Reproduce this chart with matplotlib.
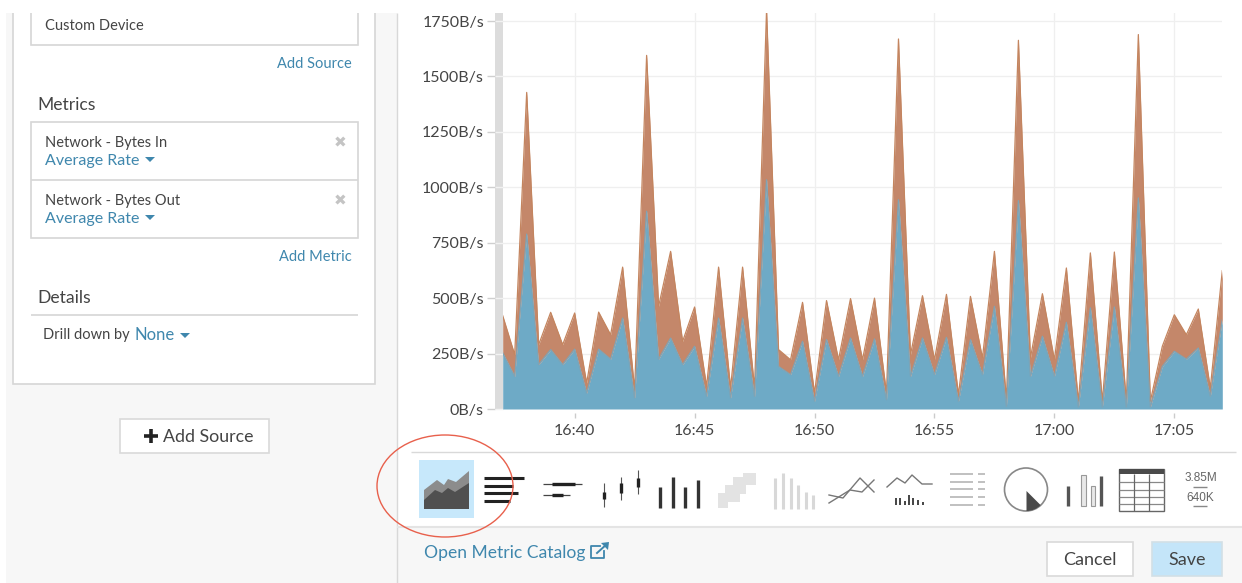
import matplotlib
matplotlib.use("Agg")
import matplotlib.pyplot as plt
import matplotlib.dates as mdates
from matplotlib.patches import Rectangle, Ellipse, Polygon, Circle, Wedge
import pandas as pd

plt.rcParams['font.family'] = ['Lato', 'DejaVu Sans']

# one sample every 30 s
times = pd.date_range("2017-01-01 16:37:00", periods=61, freq="30s")
bytes_in = [253, 147, 789, 200, 268, 200, 270, 72, 270, 225, 410, 50, 892, 225, 320, 200, 283,
            57, 410, 50, 410, 57, 1034, 192, 155, 305, 35, 313, 147, 320, 147, 316, 42, 944,
            147, 320, 155, 323, 35, 313, 155, 463, 12, 940, 147, 328, 147, 391, 9, 456, 9,
            460, 9, 952, 9, 192, 260, 225, 275, 57, 403]
stack_top = [421, 245, 1428, 290, 436, 290, 433, 117, 437, 335, 640, 87, 1595, 463, 711, 305, 460,
             102, 640, 95, 640, 95, 1800, 268, 222, 481, 72, 489, 222, 498, 222, 500, 72, 1669,
             245, 511, 222, 517, 65, 508, 230, 711, 42, 1663, 230, 520, 222, 636, 35, 704, 35,
             708, 35, 1689, 35, 283, 425, 335, 451, 95, 624]
y_ticks = [0, 250, 500, 750, 1000, 1250, 1500, 1750]

W, H = 1242, 583
BLUE_LINK = "#3f87ad"
TXT = "#444444"
LINE = "#d9d9d9"

fig = plt.figure(figsize=(W / 100, H / 100), dpi=100, facecolor="white")

# whole page in pixel coordinates, for the ui around the chart
ui = fig.add_axes([0, 0, 1, 1])
ui.set_xlim(0, W)
ui.set_ylim(H, 0)
ui.axis("off")


def box(x0, y0, x1, y1, fc="white", ec=LINE, lw=1.2, z=1):
    ui.add_patch(Rectangle((x0, y0), x1 - x0, y1 - y0, fc=fc, ec=ec, lw=lw, zorder=z))


def hline(x0, x1, y, color="#222222", lw=2.0, z=3):
    ui.plot([x0, x1], [y, y], color=color, lw=lw, solid_capstyle="butt", zorder=z)


def vline(x, y0, y1, color="#222222", lw=2.0, z=3):
    ui.plot([x, x], [y0, y1], color=color, lw=lw, solid_capstyle="butt", zorder=z)


def label(x, y, s, size=10.5, color=TXT, ha="left", **kw):
    ui.text(x, y, s, fontsize=size, color=color, ha=ha, va="center", zorder=5, **kw)


def caret(x, y):
    ui.add_patch(Polygon([(x - 5, y - 2), (x + 5, y - 2), (x, y + 3)], fc=BLUE_LINK, ec="none", zorder=5))


# page backgrounds
box(6, 13, 397, H, fc="#f7f7f7", ec="none", lw=0, z=0)
box(397, 527, W, H, fc="#f7f7f7", ec="none", lw=0, z=0)
vline(397, 13, H, color="#d8d8d8", lw=1.0, z=1)
hline(397, W, 527, color="#e4e4e4", lw=1.5, z=1)
hline(411, 1236, 452, color="#d9d9d9", lw=1.0, z=1)

# left panel
box(13, 6, 375, 384, ec="#d6d6d6")
box(31, 6, 358, 45, ec="#d6d6d6", z=2)
box(31, 122, 358, 238, ec="#d6d6d6", z=2)
hline(31, 358, 179.5, color="#d6d6d6", lw=1.2)
hline(31, 358, 314.5, color="#d6d6d6", lw=1.2)
ui.add_patch(Rectangle((0, 0), W, 13, fc="white", ec="none", zorder=4))
ui.add_patch(Rectangle((0, 0), 6, H, fc="white", ec="none", zorder=4))

label(45, 26, "Custom Device", 10.5)
label(352, 64, "Add Source", 10.5, BLUE_LINK, ha="right")
label(37.5, 105, "Metrics", 12.6)
label(45, 142.5, "Network - Bytes In", 10.5)
label(45, 161, "Average Rate", 11.5, BLUE_LINK)
caret(150, 159)
label(340, 143, "\u2716", 11, "#c4c4c4", ha="center")
label(45, 200.5, "Network - Bytes Out", 10.5)
label(45, 219, "Average Rate", 11.5, BLUE_LINK)
caret(150, 217)
label(340, 201, "\u2716", 11, "#c4c4c4", ha="center")
label(352, 257, "Add Metric", 10.5, BLUE_LINK, ha="right")
label(37.5, 298, "Details", 12.6)
label(43, 335.5, "Drill down by", 10.5)
label(135, 335, "None", 12, BLUE_LINK)
caret(185, 335)
box(120, 419, 269, 453, ec="#d9d9d9")
hline(144, 158, 435.5, color="#222222", lw=2.6)
vline(151, 428.5, 442.5, color="#222222", lw=2.6)
label(163, 437, "Add Source", 12.8)

# chart type icons
box(419, 460, 474, 518, fc="#c7e8fb", ec="none", lw=0, z=2)
ui.add_patch(Polygon([(424, 490), (437, 480), (444, 485), (448, 479), (456, 482), (469, 471), (469, 509), (424, 509)],
                     fc="#8c8c8c", ec="none", zorder=3))
ui.add_patch(Polygon([(424, 500), (435, 490), (442, 493), (448, 488), (455, 492), (469, 483), (469, 509), (424, 509)],
                     fc="#505050", ec="none", zorder=3))
for y, x1 in zip([478, 486, 493, 501], [524, 513, 518, 510]):
    hline(484, x1, y, lw=2.2)
hline(543, 582, 484, lw=0.9, color="#444444")
hline(552, 575, 484, lw=2.4)
hline(543, 570, 495, lw=0.9, color="#444444")
hline(552, 563, 495, lw=2.4)
for x, y0, y1, b0, b1 in zip([604, 621, 638], [483, 477, 470], [507, 500, 494], [492, 483, 478], [499, 493, 487]):
    vline(x, y0, y1, lw=0.8, color="#555555")
    vline(x, b0, b1, lw=2.4)
for x, y0 in zip([660, 672.5, 685, 698], [487, 477, 487, 480]):
    vline(x, y0, 508, lw=2.4, color="#333333")
for x, y, w, h in zip([718, 725, 733, 743], [493, 485, 477, 473], [10, 15, 13, 13], [15, 17, 17, 12]):
    ui.add_patch(Rectangle((x, y), w, h, fc="#e3e3e3", ec="none", zorder=3))
for x, y0 in zip([775, 783, 791, 798, 806, 813], [478, 473, 478, 485, 492, 495]):
    vline(x, y0, 509, lw=2.2, color="#d8d8d8")
ui.plot([829, 843, 860, 874], [495, 498, 478, 492], color="#777777", lw=1.0, zorder=3)
ui.plot([829, 850, 862, 874], [503, 490, 492, 480], color="#777777", lw=1.0, zorder=3)
ui.plot([887, 897, 905, 912, 922, 932], [487, 478, 483, 475, 484, 484], color="#777777", lw=1.0, zorder=3)
for x, y0 in zip([896, 900, 905, 909, 913, 918, 923], [498, 498, 501, 495, 498, 500, 502]):
    vline(x, y0, 505, lw=1.4, color="#444444")
for y in [474, 481.5, 489, 496.5, 505]:
    hline(950, 973, y, lw=1.4, color="#c0c0c0")
    hline(978, 985, y, lw=1.4, color="#c0c0c0")
ui.add_patch(Circle((1026, 489.5), 21.5, fc="none", ec="#888888", lw=1.2, zorder=3))
ui.add_patch(Wedge((1026.5, 491), 20, 45, 90, fc="#4a4a4a", ec="none", zorder=3))
vline(1068, 486, 506, lw=2.4, color="#555555")
box(1081, 475, 1085.5, 506, fc="#e8e8e8", ec="#999999", lw=0.8, z=3)
box(1090.5, 486, 1095, 506, fc="#e8e8e8", ec="#999999", lw=0.8, z=3)
vline(1101, 476, 506, lw=2.4, color="#555555")
box(1119, 469, 1164, 511, fc="white", ec="#666666", lw=1.0, z=3)
ui.add_patch(Rectangle((1119, 469), 45, 5, fc="#4a4a4a", ec="none", zorder=4))
for y in [482, 489.5, 497, 504]:
    hline(1119, 1164, y, lw=0.9, color="#888888", z=4)
for x in [1134, 1148.5]:
    vline(x, 474, 511, lw=0.9, color="#666666", z=4)
label(1200.5, 478, "3.85M", 8.5, "#666666", ha="center", family="Liberation Sans")
hline(1193, 1207, 487, lw=1.0, color="#888888")
label(1200.5, 498, "640K", 8.5, "#666666", ha="center", family="Liberation Sans")
hline(1193, 1207, 506, lw=1.0, color="#888888")

# red circle around the selected icon
ui.add_patch(Ellipse((445, 486), 136, 102, fc="none", ec="#e8604c", lw=1.0, zorder=6))

# footer
label(424.5, 553, "Open Metric Catalog", 12.6, BLUE_LINK)
ui.plot([600, 591, 591, 604, 604], [546, 546, 558, 558, 551], color=BLUE_LINK, lw=1.3, zorder=5)
ui.plot([597, 607], [553, 544], color=BLUE_LINK, lw=1.4, zorder=5)
ui.add_patch(Polygon([(601, 543), (609, 542), (608, 550)], fc=BLUE_LINK, ec="none", zorder=5))
box(1047, 542, 1133, 576, ec="#d9d9d9")
label(1090, 560, "Cancel", 13, ha="center")
box(1152, 542, 1222, 576, fc="#c4e5f9", ec="#d2dfe6")
label(1187, 560, "Save", 13, ha="center")

# the chart itself
left, right, top, bottom = 502.7, 1222.3, 13, 409
ax = fig.add_axes([left / W, 1 - bottom / H, (right - left) / W, (bottom - top) / H])
ax.patch.set_alpha(0)
ax.fill_between(times, 0, bytes_in, color="#6eaac6", lw=0, zorder=3)
ax.fill_between(times, bytes_in, stack_top, color="#c4876a", lw=0, zorder=3)
ax.plot(times, stack_top, color="#c4855f", lw=0.9, zorder=4)
ax.plot(times, bytes_in, color="#7fa3b4", lw=0.9, zorder=4)
ax.set_xlim(times[0], times[-1])
ax.set_ylim(0, 396 / 0.2217)
ax.set_yticks(y_ticks)
ax.set_yticklabels([f"{v}B/s" for v in y_ticks], fontsize=11.5, color=TXT)
ax.xaxis.set_major_locator(mdates.MinuteLocator(byminute=range(0, 60, 5)))
ax.xaxis.set_major_formatter(mdates.DateFormatter("%H:%M"))
ax.tick_params(axis="x", length=0, pad=11, labelsize=11.5, labelcolor=TXT)
ax.tick_params(axis="y", length=0, pad=13.5)
ax.grid(True, color="#efefef", lw=0.9, zorder=0)
ax.set_axisbelow(True)
for s in ax.spines.values():
    s.set_visible(False)

# short x ticks sit a little below the axis
for t in ax.get_xticks():
    ax.plot([t, t], [-0.011, -0.023], transform=ax.get_xaxis_transform(), color="#cccccc",
            lw=1.0, clip_on=False, solid_capstyle="butt")

# grey band left of the y axis
ui.add_patch(Rectangle((495, 13), 8, 396, fc="#dcdcdc", ec="none", zorder=2))
for v in y_ticks:
    yy = bottom - v * 0.2217
    hline(487, 495, yy, color="#cfcfcf", lw=1.0, z=3)
    hline(495, 503, yy, color="#f2f2f2", lw=1.0, z=3)

fig.savefig("out.png", dpi=100, facecolor="white")
